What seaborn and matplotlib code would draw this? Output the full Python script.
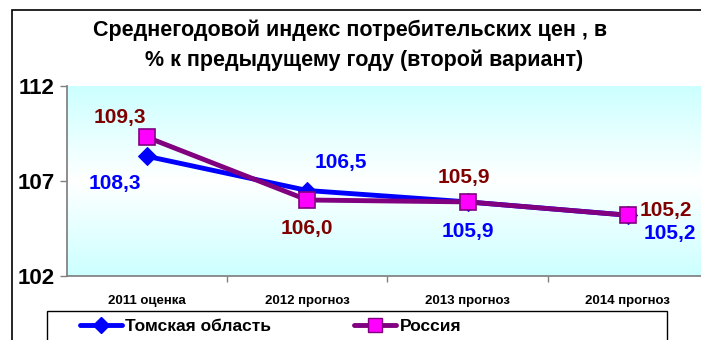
import numpy as np
import pandas as pd
import matplotlib
matplotlib.use("Agg")
import matplotlib.pyplot as plt
from matplotlib.patches import Rectangle
from matplotlib.colors import LinearSegmentedColormap
from matplotlib.lines import Line2D
import seaborn as sns

# Data
categories = ["2011 оценка", "2012 прогноз", "2013 прогноз", "2014 прогноз"]
tomsk = [108.3, 106.5, 105.9, 105.2]
russia = [109.3, 106.0, 105.9, 105.2]
y_ticks = [102, 107, 112]

sns.set_theme(style="white")
plt.rcParams["font.family"] = ["Liberation Sans", "DejaVu Sans"]
plt.rcParams["text.color"] = "black"
plt.rcParams["xtick.color"] = "black"
plt.rcParams["ytick.color"] = "black"

df = pd.DataFrame({
    "pos": list(range(len(categories))) * 2,
    "value": tomsk + russia,
    "series": ["Томская область"] * len(categories) + ["Россия"] * len(categories),
})

W, H = 701, 340
fig = plt.figure(figsize=(W / 100, H / 100), dpi=100)

# outer chart frame
fig.add_artist(Rectangle((12 / W, -0.1), 1.2, (H - 10) / H + 0.1, transform=fig.transFigure,
                         fill=False, edgecolor="black", linewidth=1.2))

ax = fig.add_axes([67 / W, 1 - 276 / H, 641 / W, 190 / H])

# background gradient: cyan at edges, white in the middle
cmap = LinearSegmentedColormap.from_list("bg", ["#ccffff", "#ffffff", "#ccffff"])
grad = np.linspace(0, 1, 256).reshape(-1, 1)
ax.imshow(grad, aspect="auto", cmap=cmap, extent=[-0.5, 3.5, 102, 112], zorder=0)

tom_df = df[df.series == "Томская область"]
rus_df = df[df.series == "Россия"]
sns.lineplot(data=tom_df, x="pos", y="value", ax=ax, color="#0000ff", linewidth=3.5,
             marker="D", markersize=9, markerfacecolor="#0000ff", markeredgecolor="#0000ff",
             zorder=3)
sns.lineplot(data=rus_df, x="pos", y="value", ax=ax, color="#800080", linewidth=3.5,
             marker="s", markersize=12, markerfacecolor="#ff00ff", markeredgecolor="#800080",
             markeredgewidth=1.2, zorder=4)

ax.set_xlim(-0.5, 3.5)
ax.set_ylim(102, 112)
ax.set_xlabel("")
ax.set_ylabel("")

def fmt(v):
    return f"{v:.1f}".replace(".", ",")

tom_off = [(-32, -27), (33, 28), (0, -30), (42, -18)]
rus_off = [(-27, 20), (0, -28), (-4, 24), (38, 5)]
for i, v in enumerate(tomsk):
    ax.annotate(fmt(v), (i, v), xytext=tom_off[i], textcoords="offset pixels",
                ha="center", va="center", fontsize=15, fontweight="bold", color="#0000ff", zorder=5)
for i, v in enumerate(russia):
    ax.annotate(fmt(v), (i, v), xytext=rus_off[i], textcoords="offset pixels",
                ha="center", va="center", fontsize=15, fontweight="bold", color="#800000", zorder=5)

# axes styling
for s in ["top", "right"]:
    ax.spines[s].set_visible(False)
ax.spines["left"].set_color("#808080")
ax.spines["bottom"].set_color("#808080")
ax.set_yticks(y_ticks)
ax.set_yticklabels([str(t) for t in y_ticks], fontsize=16, fontweight="bold", color="black")
ax.tick_params(axis="y", left=True, length=5, color="#808080", width=1, pad=4)

ax.set_xticks([0.5, 1.5, 2.5], minor=False)
ax.set_xticklabels([])
ax.tick_params(axis="x", bottom=True, length=4, color="#808080", width=1)
ax.set_xticks(range(len(categories)), minor=True)
ax.set_xticklabels(categories, minor=True, fontsize=9.5, fontweight="bold")
ax.tick_params(axis="x", which="minor", length=0, pad=14)

# title
fig.text(350 / W, 1 - 30 / H, "Среднегодовой индекс потребительских цен , в",
         ha="center", va="center", fontsize=15.5, fontweight="bold")
fig.text(364 / W, 1 - 60 / H, "% к предыдущему году (второй вариант)",
         ha="center", va="center", fontsize=15.5, fontweight="bold")

# legend
fig.add_artist(Rectangle((47 / W, -0.1), 620 / W, (H - 311) / H + 0.1, transform=fig.transFigure,
                         fill=False, edgecolor="black", linewidth=1.0))
handles = [
    Line2D([], [], color="#0000ff", linewidth=3.5, marker="D", markersize=8,
           markerfacecolor="#0000ff", markeredgecolor="#0000ff"),
    Line2D([], [], color="#800080", linewidth=3.5, marker="s", markersize=10,
           markerfacecolor="#ff00ff", markeredgecolor="#800080"),
]
fig.legend(handles, ["Томская область", "Россия"], loc="center left",
           bbox_to_anchor=(80 / W, 1 - 326 / H), ncol=2, frameon=False,
           prop={"size": 12.5, "weight": "bold"}, handlelength=2.4, handletextpad=0.2,
           columnspacing=4.8, borderaxespad=0, borderpad=0)

fig.savefig("out.png", dpi=100)
